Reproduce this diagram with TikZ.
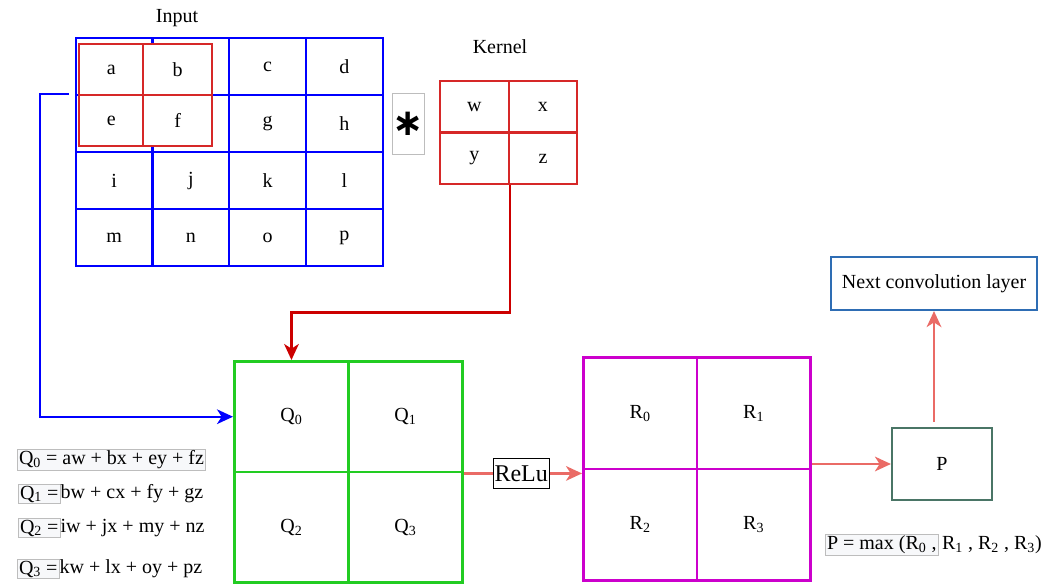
\documentclass[tikz,border=0pt]{standalone}
\usepackage{fontspec}
\setmainfont{Liberation Serif}
\newfontfamily\symfont{DejaVu Sans}
\usetikzlibrary{arrows.meta}
\definecolor{inblue}{HTML}{0000FF}
\definecolor{winred}{HTML}{D62828}
\definecolor{arrred}{HTML}{CC0000}
\definecolor{qgreen}{HTML}{22CC22}
\definecolor{rmag}{HTML}{CC00CC}
\definecolor{salmon}{HTML}{EA6B66}
\definecolor{pgray}{HTML}{4A7566}
\definecolor{nextblue}{HTML}{2E6DB4}
\definecolor{eqedge}{HTML}{BDBDBD}
\definecolor{eqfill}{HTML}{F7F8FA}
\begin{document}
\begin{tikzpicture}[x=0.75pt,y=-0.75pt,
  font=\fontsize{15}{18}\selectfont,
  gridcell/.style={draw, rectangle, inner sep=0pt, anchor=north west},
  incell/.style={gridcell, draw=inblue, line width=1.8pt,
    minimum width=57.5625pt, minimum height=42.75pt},
  wincell/.style={gridcell, draw=winred, fill=white, line width=1.8pt,
    minimum width=#1, minimum height=38.25pt},
  kcell/.style={gridcell, draw=winred, line width=1.8pt,
    minimum width=51.375pt, minimum height=38.625pt},
  qcell/.style={gridcell, draw=qgreen, line width=2.2pt,
    minimum width=85.5pt, minimum height=82.875pt},
  rcell/.style={gridcell, draw=rmag, line width=2.2pt,
    minimum width=85.125pt, minimum height=83.625pt},
  eqbox/.style={draw=eqedge, fill=eqfill, line width=0.6pt, inner sep=1.2pt, anchor=west},
  eqtext/.style={inner sep=0pt, anchor=west},
  tip/.style={-{Stealth[length=12pt, width=11pt, inset=3.5pt]}},
  conn/.style={line width=1.7pt, tip},
]
\useasboundingbox (0,0) rectangle (1062,584);

% input matrix
\node (inlabel) at (177,18) {Input};
\foreach \t [count=\i from 0] in {{},{},c,d,{},{},g,h,i,j,k,l,m,n,o,p}{
  \pgfmathtruncatemacro\row{int(\i/4)}
  \pgfmathtruncatemacro\col{mod(\i,4)}
  \node[incell] (in-\row-\col) at ({74.5+76.75*\col},{37+57*\row}) {\t};
}

% sliding window over the input
\node[wincell=48pt] (w-0-0) at (78,43) {a};
\node[wincell=51.75pt] (w-0-1) at (142,43) {b};
\node[wincell=48pt] (w-1-0) at (78,94) {e};
\node[wincell=51.75pt] (w-1-1) at (142,94) {f};

% convolution operator
\node[draw=eqedge, line width=0.7pt, minimum width=21.75pt, minimum height=45.75pt, inner sep=0pt] (opstar) at (408.5,123.5) {\symfont\bfseries\fontsize{28}{28}\selectfont ∗};

% kernel
\node (klabel) at (500,47) {Kernel};
\foreach \t [count=\i from 0] in {w,x,y,z}{
  \pgfmathtruncatemacro\row{int(\i/2)}
  \pgfmathtruncatemacro\col{mod(\i,2)}
  \node[kcell] (k-\row-\col) at ({439+68.5*\col},{80+51.5*\row}) {\t};
}

% convolution output
\foreach \i in {0,...,3}{
  \pgfmathtruncatemacro\row{int(\i/2)}
  \pgfmathtruncatemacro\col{mod(\i,2)}
  \node[qcell] (q-\row-\col) at ({233+114*\col},{360+110.5*\row}) {Q\textsubscript{\i}};
}

% activation output
\foreach \i in {0,...,3}{
  \pgfmathtruncatemacro\row{int(\i/2)}
  \pgfmathtruncatemacro\col{mod(\i,2)}
  \node[rcell] (r-\row-\col) at ({582+113.5*\col},{356+111.5*\row}) {R\textsubscript{\i}};
}

% pooling result and next layer
\node[draw=pgray, line width=1.6pt, minimum width=75pt, minimum height=54pt] (p) at (942,464) {P};
\node[draw=nextblue, line width=1.6pt, minimum width=154.5pt, minimum height=39.75pt] (next) at (934,283.5) {Next convolution layer};

% formulas
\node[eqbox] (e0) at (17,460) {Q\textsubscript{0} = aw + bx + ey + fz};
\node[eqbox] (e1) at (18,494) {Q\textsubscript{1} =};
\node[eqtext] (e1r) at (e1.east) {bw + cx + fy + gz};
\node[eqbox] (e2) at (18,528) {Q\textsubscript{2} =};
\node[eqtext] (e2r) at (e2.east) {iw + jx + my + nz};
\node[eqbox] (e3) at (17,569) {Q\textsubscript{3} =};
\node[eqtext] (e3r) at (e3.east) {kw + lx + oy + pz};
\node[eqbox] (pe) at (825,545) {P = max (R\textsubscript{0} ,};
\node[eqtext] (per) at (pe.east) {\,R\textsubscript{1} , R\textsubscript{2} , R\textsubscript{3})};

% connectors
\coordinate (bstart) at (69,94);
\draw[conn, draw=inblue] (bstart) -- ++(-29,0) |- (q-0-0.west);
\draw[conn, draw=arrred] (k-1-0.south east) -- ++(0,127) -| (q-0-0.north);
\draw[conn, draw=salmon] (q-0-1.south east) --
  node[pos=0.485, draw=black, fill=white, line width=0.9pt, inner sep=1pt,
       minimum height=22.5pt, font=\fontsize{18}{20}\selectfont] (relu) {ReLu}
  (q-0-1.south east -| r-0-0.west);
\draw[conn, draw=salmon] (p.west -| r-0-1.east) -- (p.west);
\draw[conn, draw=salmon, shorten <=3.75pt] (next.south |- p.north) -- (next.south);
\end{tikzpicture}
\end{document}
